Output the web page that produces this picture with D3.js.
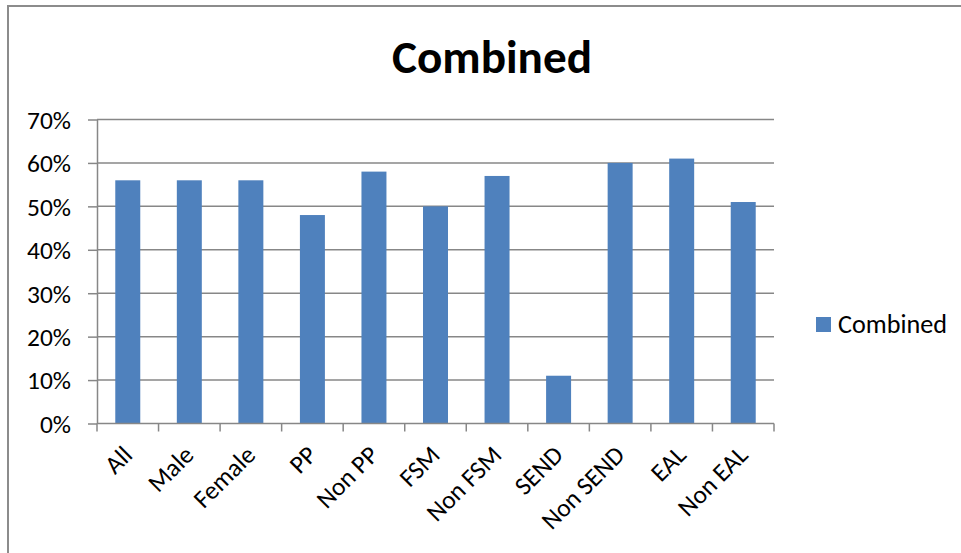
<!DOCTYPE html>
<html>
<head>
<meta charset="utf-8">
<script src="https://cdn.jsdelivr.net/npm/d3@7"></script>
<style>
  html, body { margin: 0; padding: 0; background: #fff; }
  svg { display: block; }
  text { font-family: Carlito, Lato, "Liberation Sans", sans-serif; fill: #000; }
</style>
</head>
<body>
<svg id="chart" width="961" height="553"></svg>
<script>
const chartTitle = "Combined";
const seriesName = "Combined";
const categories = ["All", "Male", "Female", "PP", "Non PP", "FSM", "Non FSM", "SEND", "Non SEND", "EAL", "Non EAL"];
const values = [0.56, 0.56, 0.56, 0.48, 0.58, 0.50, 0.57, 0.11, 0.60, 0.61, 0.51];
const yTicks = [0, 0.1, 0.2, 0.3, 0.4, 0.5, 0.6, 0.7];

const svg = d3.select("#chart");
const W = 961, H = 553;
const plot = { left: 97, right: 774, top: 119.5, bottom: 423.5 };
const barColor = "#4F81BD";
const lineColor = "#878787";

// outer chart border (only left/top visible in the frame)
svg.append("rect")
  .attr("x", 8).attr("y", 6)
  .attr("width", 1200).attr("height", 800)
  .attr("fill", "#fff")
  .attr("stroke", "#8c8c8c").attr("stroke-width", 2);

const x = d3.scaleBand()
  .domain(categories)
  .range([plot.left, plot.right])
  .paddingInner(0.594)
  .paddingOuter(0.297);

const y = d3.scaleLinear()
  .domain([0, 0.7])
  .range([plot.bottom, plot.top]);

// helper: fit font-size so text reaches target width
function fitSize(sample, target, base, weight) {
  const t = svg.append("text").attr("font-size", base).attr("font-weight", weight || "normal").text(sample);
  const w = t.node().getComputedTextLength();
  t.remove();
  return base * target / w;
}
const labelSize = Math.min(26, fitSize("70%", 44, 26));
const titleSize = fitSize(chartTitle, 200, 46, "bold");
const legendSize = fitSize(seriesName, 109, 26);

// gridlines
svg.append("g")
  .selectAll("line")
  .data(yTicks.filter(d => d > 0))
  .join("line")
  .attr("x1", plot.left).attr("x2", plot.right)
  .attr("y1", d => y(d)).attr("y2", d => y(d))
  .attr("stroke", lineColor).attr("stroke-width", 1.5);

// bars
svg.append("g")
  .selectAll("rect")
  .data(categories.map((c, i) => ({ c, v: values[i] })))
  .join("rect")
  .attr("x", d => x(d.c))
  .attr("y", d => y(d.v))
  .attr("width", x.bandwidth())
  .attr("height", d => y(0) - y(d.v))
  .attr("fill", barColor);

// y axis
const yAxis = svg.append("g")
  .attr("transform", `translate(${plot.left},0)`)
  .call(d3.axisLeft(y).tickValues(yTicks).tickFormat(d3.format(".0%")).tickSize(9).tickSizeOuter(0).tickPadding(17));
yAxis.select(".domain").attr("stroke", lineColor).attr("stroke-width", 1.5);
yAxis.selectAll(".tick line").attr("stroke", lineColor).attr("stroke-width", 1.5);
yAxis.selectAll(".tick text")
  .attr("font-size", labelSize)
  .attr("font-family", null)
  .attr("fill", "#000")
  .attr("dy", "0.35em");
yAxis.attr("font-family", null);

// x axis line + boundary ticks
const gap = x.step() - x.bandwidth();
const bounds = categories.map(c => x(c) - gap / 2).concat([plot.right]);
const xAxis = svg.append("g");
xAxis.append("line")
  .attr("x1", plot.left).attr("x2", plot.right)
  .attr("y1", plot.bottom).attr("y2", plot.bottom)
  .attr("stroke", lineColor).attr("stroke-width", 1.5);
xAxis.selectAll("line.tk")
  .data(bounds)
  .join("line").attr("class", "tk")
  .attr("x1", d => d).attr("x2", d => d)
  .attr("y1", plot.bottom).attr("y2", plot.bottom + 8)
  .attr("stroke", lineColor).attr("stroke-width", 1.5);

// x labels rotated
xAxis.selectAll("text")
  .data(categories)
  .join("text")
  .attr("transform", d => `translate(${x(d) + x.bandwidth() / 2 + 6},${plot.bottom + 33}) rotate(-45)`)
  .attr("text-anchor", "end")
  .attr("font-size", labelSize)
  .text(d => d);

// title
svg.append("text")
  .attr("x", 492).attr("y", 73)
  .attr("text-anchor", "middle")
  .attr("font-size", titleSize)
  .attr("font-weight", "bold")
  .text(chartTitle);

// legend
const leg = svg.append("g");
leg.append("rect")
  .attr("x", 816).attr("y", 317)
  .attr("width", 15).attr("height", 15)
  .attr("fill", barColor);
leg.append("text")
  .attr("x", 838).attr("y", 324)
  .attr("dy", "0.35em")
  .attr("font-size", legendSize)
  .text(seriesName);
</script>
</body>
</html>
